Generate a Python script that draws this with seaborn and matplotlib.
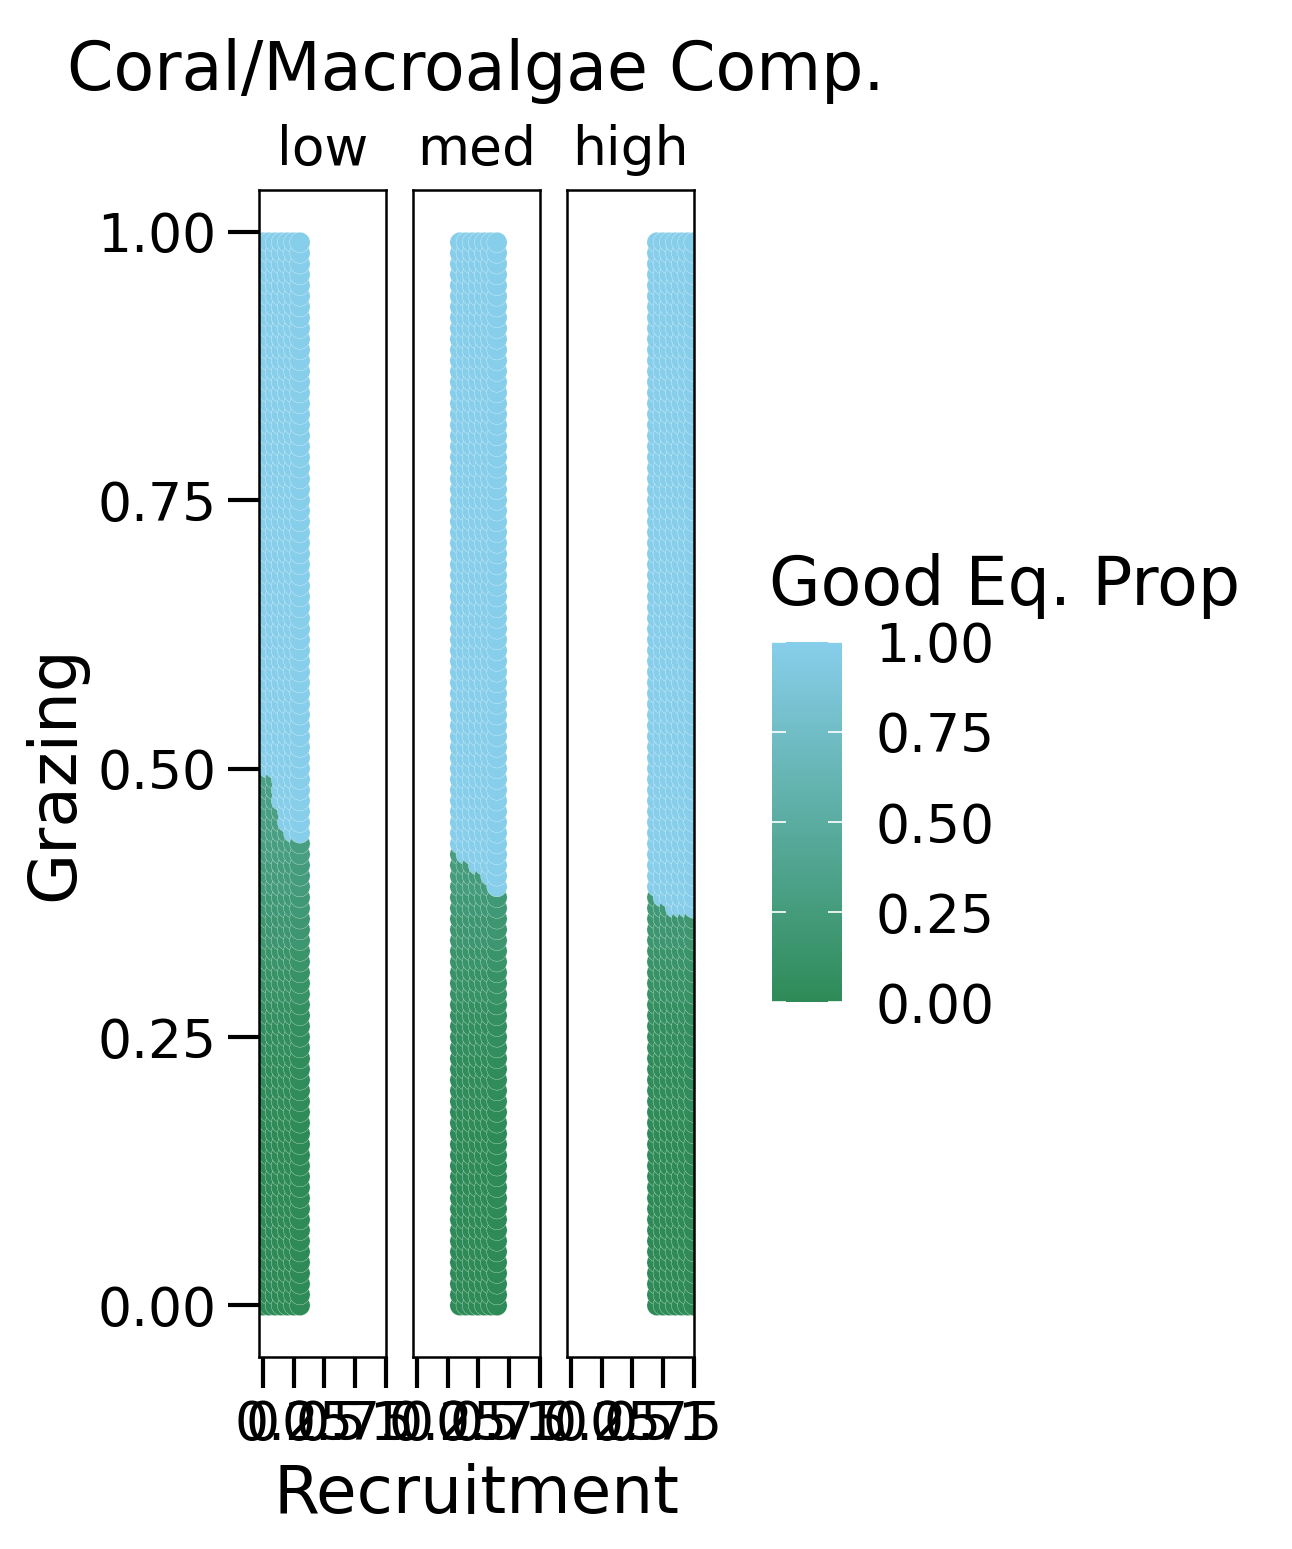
import numpy as np
import pandas as pd
import seaborn as sns
import matplotlib.pyplot as plt
from matplotlib.colors import LinearSegmentedColormap, Normalize
from matplotlib.cm import ScalarMappable

# data
levels = ["low", "med", "high"]
recruitment = {
    "low": [0.00, 0.05, 0.10, 0.15, 0.20, 0.25, 0.30],
    "med": [0.35, 0.40, 0.45, 0.50, 0.55, 0.60, 0.65],
    "high": [0.70, 0.75, 0.80, 0.85, 0.90, 0.95, 1.00],
}
# grazing level from which the good equilibrium is reached (prop = 1)
threshold = {
    "low": [0.53, 0.50, 0.50, 0.47, 0.45, 0.44, 0.44],
    "med": [0.43, 0.42, 0.42, 0.41, 0.41, 0.40, 0.39],
    "high": [0.39, 0.38, 0.38, 0.37, 0.37, 0.37, 0.37],
}
grazing = np.arange(100) / 100
# good eq. proportion below the threshold, per 0.025 of grazing
profile_v = [0, 0, 0, 0, 0, 0, 0, 0.01, 0.02, 0.03, 0.05, 0.07,
             0.10, 0.13, 0.17, 0.21, 0.25, 0.28, 0.30, 0.32, 0.33]

rows = []
for lev in levels:
    for r, t in zip(recruitment[lev], threshold[lev]):
        for g in grazing:
            if g >= t - 1e-9:
                v = 1.0
            else:
                v = profile_v[min(int(round(g / 0.025)), len(profile_v) - 1)]
            rows.append((lev, r, g, v))
df = pd.DataFrame(rows, columns=["level", "Recruitment", "Grazing", "prop"])

cmap = LinearSegmentedColormap.from_list("eq", ["seagreen", "skyblue"])

W, H = 1292, 1549
def rect(x0, y0, x1, y1):
    return [x0 / W, 1 - y1 / H, (x1 - x0) / W, (y1 - y0) / H]

fig = plt.figure(figsize=(W / 100, H / 100), dpi=100)
tick_fs = 38.5

for i, lev in enumerate(levels):
    x0 = 259 + i * 154
    ax = fig.add_axes(rect(x0, 190, x0 + 127, 1357))
    sns.scatterplot(data=df[df.level == lev], x="Recruitment", y="Grazing",
                    hue="prop", palette=cmap, hue_norm=(0, 1), s=215,
                    edgecolor="white", linewidth=0.2, legend=False, ax=ax)
    ax.set_xlim(-0.0325, 1.0)
    ax.set_ylim(-0.048, 1.0388)
    ax.set_xticks([0, 0.25, 0.5, 0.75, 1.0])
    ax.set_xticklabels(["0", "0.25", "0.5", "0.75", "1"])
    ax.set_yticks([0, 0.25, 0.5, 0.75, 1.0])
    ax.set_xlabel("")
    ax.set_ylabel("")
    ax.tick_params(length=22.5, width=3, pad=8, labelsize=tick_fs)
    if i > 0:
        ax.tick_params(axis="y", left=False, labelleft=False)
    for sp in ax.spines.values():
        sp.set_linewidth(1.8)
    ax.set_title(lev, fontsize=tick_fs, pad=18)

fig.text(67 / W, 1 - 90 / H, "Coral/Macroalgae Comp.", fontsize=48,
         ha="left", va="baseline")
fig.text(477 / W, 1 - 1513 / H, "Recruitment", fontsize=47.5,
         ha="center", va="baseline")
fig.text(55 / W, 1 - 773 / H, "Grazing", fontsize=47.5, rotation=90,
         ha="center", va="center")

# colour bar legend
fig.text(769 / W, 1 - 605 / H, "Good Eq. Prop", fontsize=48,
         ha="left", va="baseline")
cax = fig.add_axes(rect(772, 642, 842, 1002))
cb = fig.colorbar(ScalarMappable(norm=Normalize(0, 1), cmap=cmap), cax=cax)
cb.outline.set_visible(False)
cb.set_ticks([0, 0.25, 0.5, 0.75, 1.0])
cb.ax.set_yticklabels(["0.00", "0.25", "0.50", "0.75", "1.00"])
cb.ax.tick_params(left=True, right=True, direction="in", color="white",
                  length=10, width=1.2, pad=24, labelsize=tick_fs)

fig.savefig("out.png", dpi=100)
